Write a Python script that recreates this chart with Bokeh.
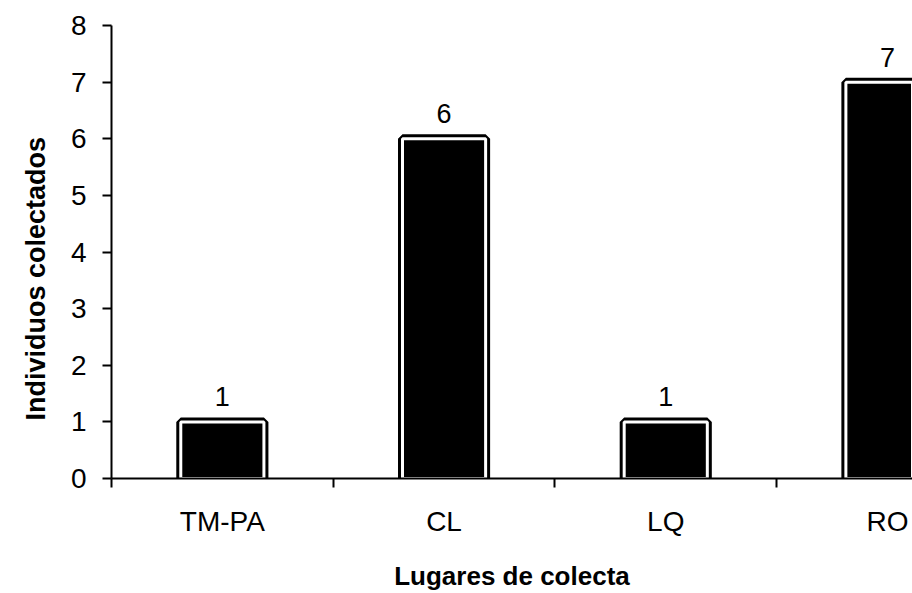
from bokeh.plotting import figure
from bokeh.models import ColumnDataSource, FixedTicker, Range1d, Title
from bokeh.core.properties import value
from bokeh.embed import file_html
from bokeh.resources import INLINE

# Collected individuals per collection site
lugares = ["TM-PA", "CL", "LQ", "RO"]
individuos = [1, 6, 1, 7]
y_ticks = [0, 1, 2, 3, 4, 5, 6, 7, 8]

FONT = "Liberation Sans"

centers = [i + 0.5 for i in range(len(lugares))]
source = ColumnDataSource(dict(
    x=centers,
    top=individuos,
    label=[str(v) for v in individuos],
))

p = figure(
    width=912, height=593,
    x_range=Range1d(0, 3.613), y_range=Range1d(0, 8),
    output_backend="svg", toolbar_location=None,
    min_border_left=111, min_border_right=0,
    min_border_top=25, min_border_bottom=113,
)
p.outline_line_color = None
p.xgrid.visible = False
p.ygrid.visible = False
p.background_fill_color = "white"
p.border_fill_color = "white"

# Bars: thick black outline, a white inner stripe, solid black fill
p.vbar(x="x", top="top", bottom=0, width=0.375, source=source,
       fill_color="black", line_color="black", line_width=9)
p.vbar(x="x", top="top", bottom=0, width=0.375, source=source,
       fill_color=None, line_color="white", line_width=3)

# Value labels above bars
p.text(x="x", y="top", text="label", source=source,
       text_align="center", text_baseline="alphabetic", y_offset=-25,
       text_font=value(FONT), text_font_size="27px", text_color="black")

# X axis: category names at centers, tick marks at category boundaries
xa = p.xaxis[0]
xa.ticker = FixedTicker(ticks=centers, minor_ticks=[0, 1, 2, 3])
xa.major_label_overrides = {c: name for c, name in zip(centers, lugares)}
xa.major_tick_out = 0
xa.major_tick_in = 0
xa.minor_tick_out = 9
xa.minor_tick_in = 0
xa.minor_tick_line_color = "black"
xa.minor_tick_line_width = 2
xa.axis_line_width = 2
xa.axis_line_color = "black"
xa.major_label_text_font = FONT
xa.major_label_text_font_size = "28px"
xa.major_label_text_color = "black"
xa.major_label_standoff = 18
xa.axis_label = "Lugares de colecta"
xa.axis_label_text_font = FONT
xa.axis_label_text_font_size = "26px"
xa.axis_label_text_font_style = "bold"
xa.axis_label_text_color = "black"
xa.axis_label_standoff = 21

# Y axis
ya = p.yaxis[0]
ya.ticker = FixedTicker(ticks=y_ticks, minor_ticks=[])
ya.major_tick_out = 9
ya.major_tick_in = 0
ya.major_tick_line_width = 2
ya.major_tick_line_color = "black"
ya.axis_line_width = 2
ya.axis_line_color = "black"
ya.major_label_text_font = FONT
ya.major_label_text_font_size = "28px"
ya.major_label_text_color = "black"
ya.major_label_standoff = 16

# Y axis title, set a little below the middle of the axis
y_title = Title(
    text="Individuos colectados", align="left", offset=58, standoff=29,
    vertical_align="top",
    text_font=FONT, text_font_size="27px", text_font_style="bold",
    text_color="black",
)
p.add_layout(y_title, "left")

open("out.html", "w").write(file_html(p, INLINE))
